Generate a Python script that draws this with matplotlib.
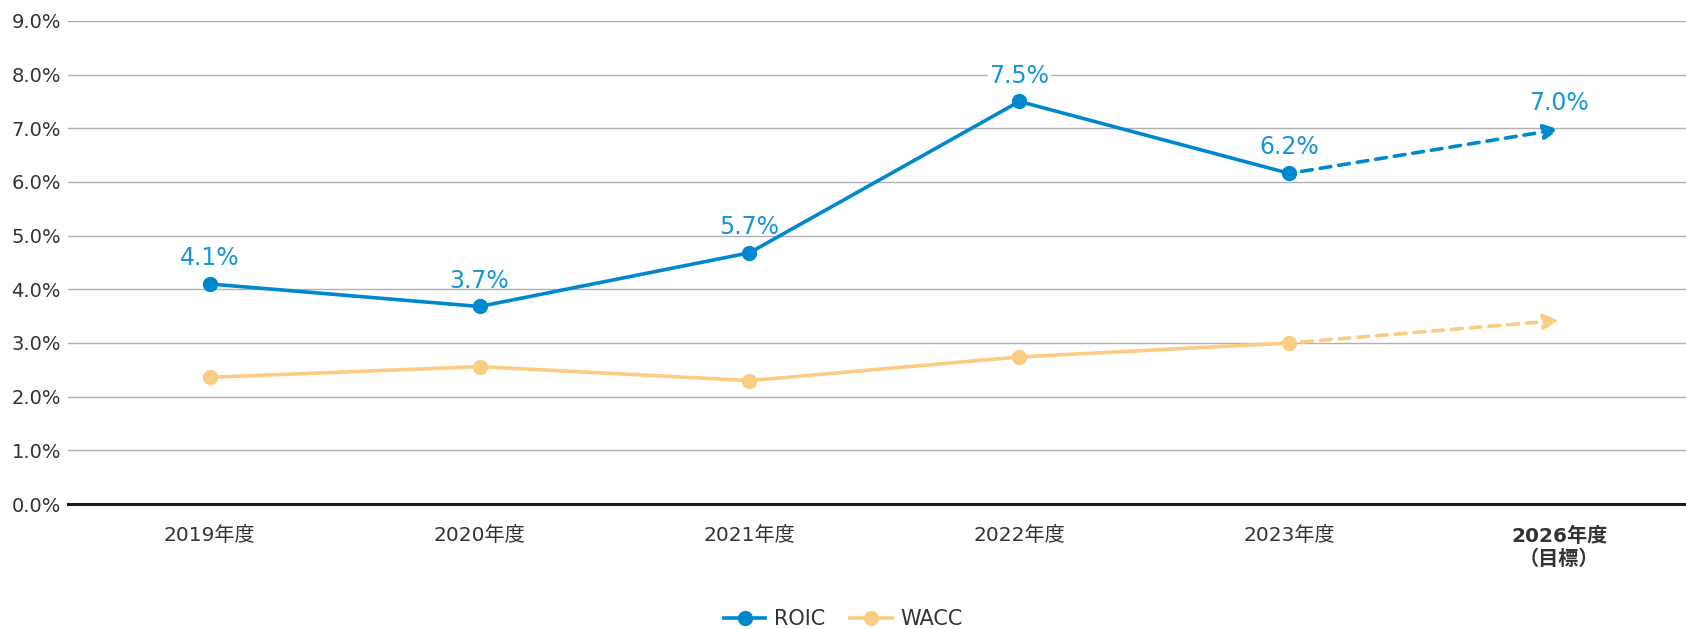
import matplotlib
matplotlib.use('Agg')
import matplotlib.pyplot as plt

plt.rcParams['font.family'] = ['DejaVu Sans', 'Noto Sans CJK JP']

YEARS = ['2019年度', '2020年度', '2021年度', '2022年度', '2023年度', '2026年度\n（目標）']
ROIC = [4.10, 3.68, 4.68, 7.50, 6.16, 6.98]
WACC = [2.36, 2.56, 2.30, 2.74, 3.00, 3.42]
ROIC_LABELS = ['4.1%', '3.7%', '5.7%', '7.5%', '6.2%', '7.0%']
YTICKS = [0, 1, 2, 3, 4, 5, 6, 7, 8, 9]

ROIC_COLOR = '#0088cf'
WACC_COLOR = '#fbcd82'
LABEL_COLOR = '#1696d6'
TEXT_COLOR = '#333333'

fig = plt.figure(figsize=(16.86, 6.29), dpi=100)
ax = fig.add_axes([0.0403, 0.1987, 0.9597, 0.768])

x = list(range(len(YEARS)))
n_actual = 5  # last point is the target

for vals, color, name in [(ROIC, ROIC_COLOR, 'ROIC'), (WACC, WACC_COLOR, 'WACC')]:
    ax.plot(x[:n_actual], vals[:n_actual], color=color, lw=2.6, marker='o',
            markersize=10, label=name, zorder=3)
    # dashed target segment with arrow head
    ax.annotate('', xy=(x[-1], vals[-1]), xytext=(x[n_actual - 1], vals[n_actual - 1]),
                arrowprops=dict(arrowstyle='-|>,head_length=0.9,head_width=0.45',
                                color=color, lw=2.6, linestyle=(0, (3, 2.2)),
                                shrinkA=9, shrinkB=0),
                zorder=3)

# data labels for ROIC
for i, (v, t) in enumerate(zip(ROIC, ROIC_LABELS)):
    bg = dict(facecolor='white', edgecolor='none', pad=1) if i == 3 else None
    ax.annotate(t, (x[i], v), xytext=(0, 10), textcoords='offset points',
                ha='center', va='bottom', fontsize=17, color=LABEL_COLOR,
                bbox=bg, zorder=4)

ax.set_ylim(0, 9)
ax.set_xlim(-0.525, 5.47)
ax.set_yticks(YTICKS)
ax.set_yticklabels(['%.1f%%' % v for v in YTICKS], fontsize=14, color=TEXT_COLOR)
ax.set_xticks(x)
ax.set_xticklabels(YEARS, fontsize=14.5, color=TEXT_COLOR, linespacing=1.25)
ax.get_xticklabels()[-1].set_fontweight('bold')
ax.tick_params(axis='both', length=0)
ax.tick_params(axis='y', pad=5)
ax.tick_params(axis='x', pad=16)

ax.grid(axis='y', color='#b0b0b0', lw=1)
ax.set_axisbelow(True)
for s in ['top', 'right', 'left']:
    ax.spines[s].set_visible(False)
ax.spines['bottom'].set_color('#231815')
ax.spines['bottom'].set_linewidth(2.2)
ax.spines['bottom'].set_zorder(5)

leg = fig.legend(loc='center', bbox_to_anchor=(0.5, 0.016), ncol=2, frameon=False,
                 fontsize=15, handlelength=2.0, columnspacing=1.2, handletextpad=0.4,
                 markerscale=1.0)
for t in leg.get_texts():
    t.set_color(TEXT_COLOR)

fig.savefig('out.png', dpi=100)
